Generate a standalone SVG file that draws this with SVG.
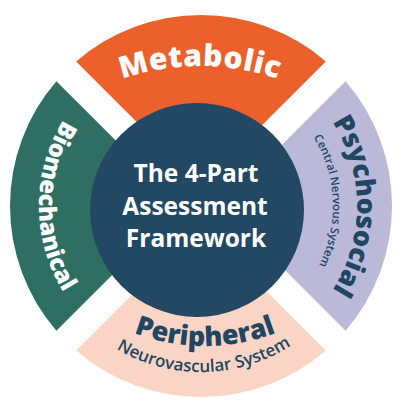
<svg xmlns="http://www.w3.org/2000/svg" width="402" height="413" viewBox="0 0 402 413">
<style>
.big{font-family:"Open Sans","Liberation Sans",sans-serif;font-weight:800}
.ctr{font-family:"Open Sans","Liberation Sans",sans-serif;font-weight:700}
.sub{font-family:"Open Sans","Liberation Sans",sans-serif;font-weight:600}
.w{fill:#ffffff}
.n{fill:#1f4763}
</style>
<defs>
<path id="pMet" d="M 70 104.3 A 240 240 0 0 1 330 104.3"/>
<path id="pPer" d="M 75 298 A 200 200 0 0 0 335 298"/>
<path id="pNeu" d="M 57.2 289 A 166 166 0 0 0 344.8 289"/>
<path id="pPsy" d="M 279 70.9 A 156 156 0 0 1 279 341.1"/>
<path id="pCns" d="M 267 91.7 A 132 132 0 0 1 267 320.3"/>
<path id="pBio" d="M 119.5 64.8 A 164 164 0 0 0 119.5 347.2"/>
</defs>
<rect width="402" height="413" fill="#ffffff"/>
<g id="metabolic">
<path d="M 201 186.2 L 325.8 61.4 A 191 191 0 0 0 76.2 61.4 Z" fill="#ec612b"/>
<text class="big w" font-size="30" letter-spacing="0.5"><textPath href="#pMet" startOffset="50%" text-anchor="middle">Metabolic</textPath></text>
</g>
<g id="psychosocial">
<path d="M 220.8 206 L 345.6 330.8 A 191 191 0 0 0 345.6 81.2 Z" fill="#bab9d7"/>
<text class="big n" font-size="27"><textPath href="#pPsy" startOffset="50%" text-anchor="middle">Psychosocial</textPath></text>
<text class="sub n" font-size="11.5"><textPath href="#pCns" startOffset="48%" text-anchor="middle">Central Nervous System</textPath></text>
</g>
<g id="peripheral">
<path d="M 201 225.8 L 76.2 350.6 A 191 191 0 0 0 325.8 350.6 Z" fill="#fad4c4"/>
<text class="big n" font-size="27"><textPath href="#pPer" startOffset="50%" text-anchor="middle">Peripheral</textPath></text>
<text class="sub n" font-size="17"><textPath href="#pNeu" startOffset="50.9%" text-anchor="middle">Neurovascular System</textPath></text>
</g>
<g id="biomechanical">
<path d="M 181.2 206 L 56.4 81.2 A 191 191 0 0 0 56.4 330.8 Z" fill="#2e6e63"/>
<text class="big w" font-size="24"><textPath href="#pBio" startOffset="50%" text-anchor="middle">Biomechanical</textPath></text>
</g>
<g id="center">
<circle cx="197" cy="210" r="107" fill="#234864"/>
<text class="ctr w" font-size="24.5" text-anchor="middle"><tspan x="196" y="182">The 4-Part</tspan><tspan x="195" y="215">Assessment</tspan><tspan x="196" y="247">Framework</tspan></text>
</g>
<g id="connectors"/>
</svg>
